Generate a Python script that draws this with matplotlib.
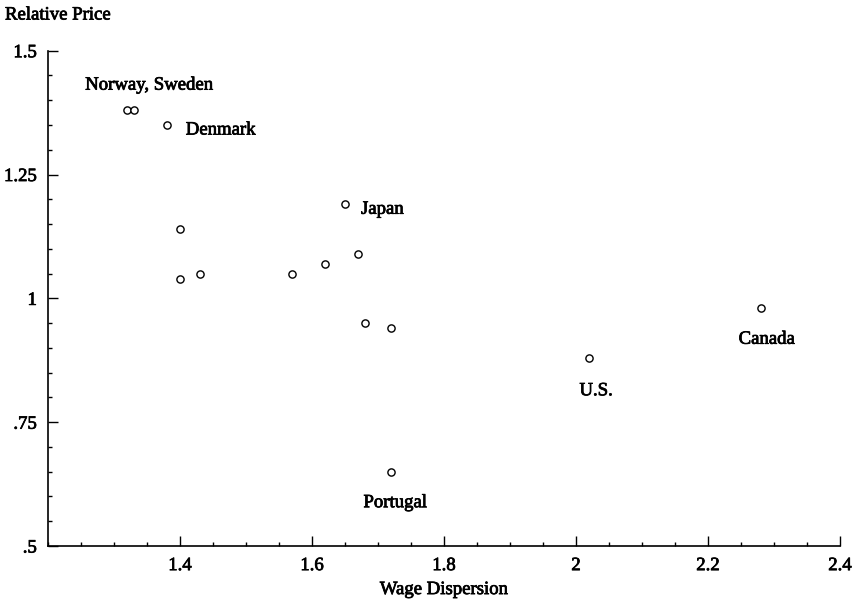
import matplotlib
matplotlib.use("Agg")
import matplotlib.pyplot as plt
import matplotlib.patheffects as pe
from matplotlib.ticker import MultipleLocator, FixedLocator

# Data
wage_dispersion = [1.32, 1.33, 1.38, 1.40, 1.40, 1.43, 1.57, 1.62, 1.65, 1.67, 1.68, 1.72, 1.72, 2.02, 2.28]
relative_price = [1.38, 1.38, 1.35, 1.14, 1.04, 1.05, 1.05, 1.07, 1.19, 1.09, 0.95, 0.94, 0.65, 0.88, 0.98]

label_names = ["Norway, Sweden", "Denmark", "Japan", "Portugal", "U.S.", "Canada"]
label_points = [0, 2, 8, 12, 13, 14]  # index of the point each label belongs to

x_ticks = [1.4, 1.6, 1.8, 2.0, 2.2, 2.4]
x_tick_labels = ["1.4", "1.6", "1.8", "2", "2.2", "2.4"]
y_ticks = [0.5, 0.75, 1.0, 1.25, 1.5]
y_tick_labels = [".5", ".75", "1", "1.25", "1.5"]

# label layout: (dx, dy) in pixels, horizontal alignment
label_layout = {
    "Norway, Sweden": (-42, 25, "left"),
    "Denmark": (19, -5, "left"),
    "Japan": (16, -5, "left"),
    "Portugal": (4, -31, "center"),
    "U.S.": (7, -33, "center"),
    "Canada": (6, -31, "center"),
}

plt.rcParams["font.family"] = ["Liberation Serif", "DejaVu Serif"]
FS = 13.5
thick = [pe.withStroke(linewidth=0.55, foreground="black")]

fig = plt.figure(figsize=(8.53, 6.0), dpi=100)
ax = fig.add_axes([48 / 853, 1 - 546 / 600, (840 - 48) / 853, (546 - 50.7) / 600])

ax.plot(wage_dispersion, relative_price, linestyle="none", marker="o",
        markersize=5.2, markerfacecolor="white", markeredgecolor="black",
        markeredgewidth=1.0, clip_on=False)

for name, idx in zip(label_names, label_points):
    dx, dy, ha = label_layout[name]
    ax.annotate(name, (wage_dispersion[idx], relative_price[idx]),
                xytext=(dx, dy), textcoords="offset pixels",
                ha=ha, va="center", fontsize=FS, color="black", path_effects=thick)

ax.set_xlim(1.2, 2.4)
ax.set_ylim(0.5, 1.5)

ax.xaxis.set_major_locator(FixedLocator(x_ticks))
ax.set_xticklabels(x_tick_labels)
ax.xaxis.set_minor_locator(MultipleLocator(0.05))
ax.yaxis.set_major_locator(FixedLocator(y_ticks))
ax.set_yticklabels(y_tick_labels)
ax.yaxis.set_minor_locator(MultipleLocator(0.05))

ax.tick_params(which="both", direction="in", width=1.0, colors="black", labelsize=FS)
ax.tick_params(which="major", length=7, pad=8)
ax.tick_params(which="minor", length=3)
for lbl in ax.get_xticklabels() + ax.get_yticklabels():
    lbl.set_path_effects(thick)

for s in ["top", "right"]:
    ax.spines[s].set_visible(False)
for s in ["left", "bottom"]:
    ax.spines[s].set_linewidth(1.2)

ax.set_xlabel("Wage Dispersion", fontsize=FS, labelpad=5, path_effects=thick)
fig.text(5 / 853, 1 - 15 / 600, "Relative Price", fontsize=FS,
         ha="left", va="center", path_effects=thick)

fig.savefig("out.png", dpi=100, facecolor="white")
